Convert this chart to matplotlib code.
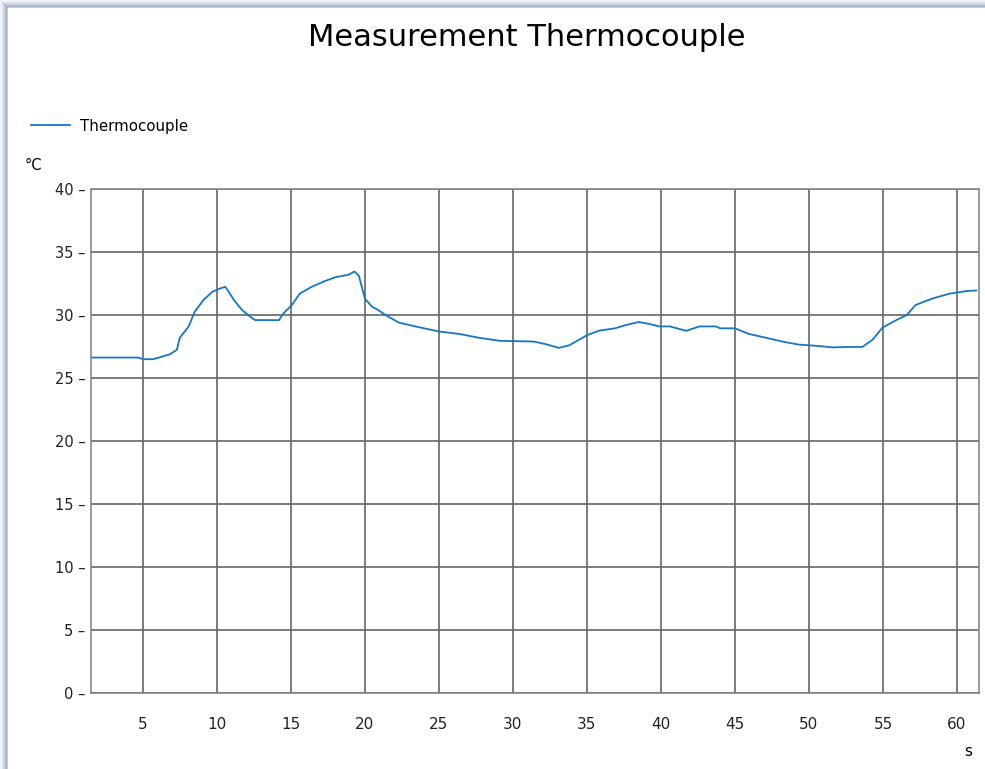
import matplotlib
matplotlib.use("Agg")
import matplotlib.pyplot as plt
from matplotlib.patches import Rectangle

# thermocouple trace, time in s and temperature in °C
time_s = [1.5, 3.0, 4.7, 5.0, 5.7, 6.3, 6.85, 7.3, 7.5, 8.1, 8.5, 9.1, 9.7, 10.2,
          10.57, 10.8, 11.15, 11.7, 12.4, 12.6, 14.2, 14.5, 15.07, 15.6, 16.4, 17.3,
          18.0, 18.9, 19.3, 19.6, 19.8, 20.0, 20.5, 20.9, 21.4, 22.3, 23.6, 25.0,
          26.4, 27.7, 29.1, 31.4, 32.2, 33.1, 33.8, 35.0, 35.8, 36.9, 37.6, 38.5,
          39.2, 39.9, 40.6, 41.7, 42.6, 43.7, 44.0, 45.0, 45.95, 47.1, 48.2, 49.3,
          50.4, 51.6, 52.7, 53.6, 54.3, 54.96, 55.9, 56.6, 57.2, 58.3, 59.5, 60.6,
          61.3]
temp_c = [26.63, 26.63, 26.63, 26.5, 26.5, 26.7, 26.9, 27.25, 28.2, 29.1, 30.26, 31.2,
          31.85, 32.1, 32.24, 31.85, 31.2, 30.4, 29.74, 29.6, 29.6, 30.13, 30.8, 31.7,
          32.24, 32.7, 33.0, 33.2, 33.46, 33.1, 32.2, 31.3, 30.65, 30.4, 30.0, 29.4,
          29.05, 28.7, 28.5, 28.2, 27.96, 27.9, 27.7, 27.4, 27.6, 28.4, 28.76, 28.95,
          29.2, 29.45, 29.3, 29.1, 29.1, 28.75, 29.1, 29.1, 28.95, 28.95, 28.5, 28.2,
          27.9, 27.66, 27.57, 27.44, 27.47, 27.47, 28.05, 29.0, 29.6, 30.0, 30.8, 31.3,
          31.7, 31.9, 31.95]

x_ticks = [5, 10, 15, 20, 25, 30, 35, 40, 45, 50, 55, 60]
y_ticks = [0, 5, 10, 15, 20, 25, 30, 35, 40]

plt.rcParams["font.family"] = "DejaVu Sans"

fig = plt.figure(figsize=(9.85, 7.69), dpi=100)
fig.patch.set_facecolor("white")

# window shadow along top and left edge
W, H = 985.0, 769.0
shades = [(0, 0.08), (1, 0.14), (2, 0.22), (3, 0.32), (4, 0.44), (5, 0.58), (6, 0.72), (7, 0.45)]
for off, a in shades:
    fig.patches.append(Rectangle((off / W, 0), 1 / W, 1 - off / H, transform=fig.transFigure,
                                 color="#7f93b8", alpha=a, lw=0))
    fig.patches.append(Rectangle((off / W, 1 - (off + 1) / H), 1 - off / W, 1 / H,
                                 transform=fig.transFigure, color="#7f93b8", alpha=a, lw=0))

ax = fig.add_axes([91 / W, 1 - 693.3 / H, (978.5 - 91) / W, (693.3 - 189) / H])
ax.plot(time_s, temp_c, color="#1676c6", lw=1.3)

ax.set_xlim(1.5, 61.45)
ax.set_ylim(0, 40)
ax.set_xticks(x_ticks)
ax.set_xticklabels([str(v) for v in x_ticks])
ax.set_yticks(y_ticks)
ax.set_yticklabels([f"{v} \u2013" for v in y_ticks])
ax.tick_params(axis="x", length=0, pad=17, labelsize=11, colors="#222222")
ax.tick_params(axis="y", length=0, pad=4, labelsize=10.5, colors="#222222")
ax.grid(True, color="#666666", lw=1.2)
for sp in ax.spines.values():
    sp.set_color("#808080")
    sp.set_linewidth(1.1)

fig.text(527 / W, 1 - 38 / H, "Measurement Thermocouple", ha="center", va="center",
         fontsize=22, color="black")

# legend entry
fig.lines.append(plt.Line2D([31 / W, 70 / W], [1 - 125 / H, 1 - 125 / H],
                            transform=fig.transFigure, color="#1676c6", lw=1.3))
fig.text(80 / W, 1 - 126 / H, "Thermocouple", ha="left", va="center", fontsize=10.8)

fig.text(25 / W, 1 - 165 / H, "°C", ha="left", va="center", fontsize=10.5)
fig.text(968 / W, 1 - 752 / H, "s", ha="center", va="center", fontsize=11)

fig.savefig("out.png", dpi=100)
